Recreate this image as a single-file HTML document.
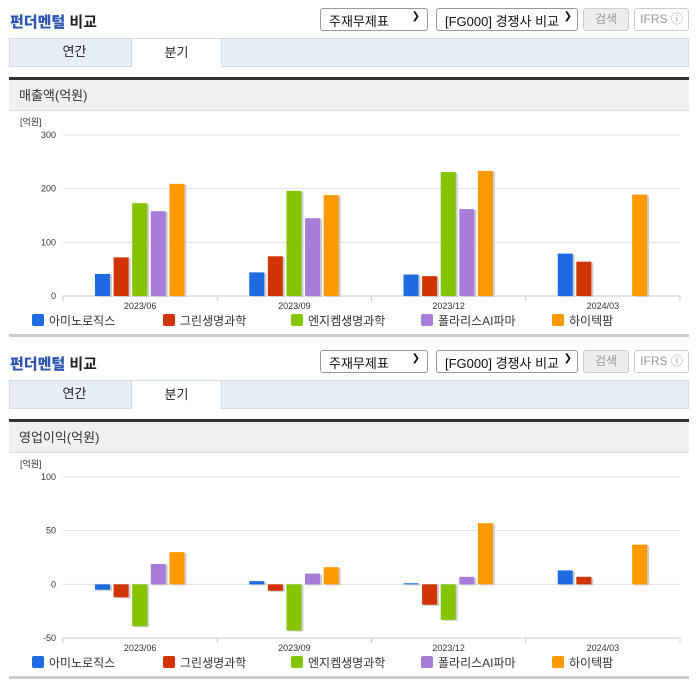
<!DOCTYPE html>
<html><head><meta charset="utf-8"><style>
*{margin:0;padding:0;box-sizing:border-box}
body{width:696px;height:684px;background:#fff;font-family:"Liberation Sans","Noto Sans CJK KR",sans-serif;position:relative;overflow:hidden;color:#333}
.abs{position:absolute}
.title{font-size:15px;font-weight:bold;color:#222}
.title b{color:#2e55b0}
.sel{border:1px solid #999;border-radius:3px;height:23px;font-size:13px;padding:2px 8px;background:#fff;color:#111}
.btn{border:1px solid #ccc;border-radius:3px;height:23px;font-size:12px;color:#999;text-align:center;line-height:21px}
.tabs{left:9px;width:680px;height:29px;background:#e8eef8;border:1px solid #d5dbe5}
.tab{top:-1px;height:29px;width:91px;text-align:center;font-size:13px;line-height:28px;color:#222}
.dark{left:9px;width:680px;height:3px;background:#333}
.band{left:9px;width:680px;height:31px;background:#f0f0f0;border-bottom:1px solid #ddd;font-size:13px;padding-left:10px;line-height:31px;color:#333}
.sep{left:9px;width:680px;height:3px;background:#ccc}
</style></head><body>
<div id="sec1"></div>
<div id="sec2"></div>
<svg id="svg" class="abs" style="left:0;top:0" width="696" height="684"></svg>
<script>
const categories=["2023/06","2023/09","2023/12","2024/03"];
const seriesNames=["아미노로직스","그린생명과학","엔지켐생명과학","폴라리스AI파마","하이텍팜"];
const colors=["#1e6ae0","#d13400","#86c300","#a67ed8","#ff9900"];
const revAmino=[41,44,40,79];
const revGreen=[72,74,37,64];
const revEnzy=[173,196,231,null];
const revPolaris=[158,145,162,null];
const revHitech=[209,188,233,189];
const revTicks=[0,100,200,300];
const opAmino=[-5,3,1,13];
const opGreen=[-12,-6,-19,7];
const opEnzy=[-39,-43,-33,null];
const opPolaris=[19,10,7,null];
const opHitech=[30,16,57,37];
const opTicks=[-50,0,50,100];

const NS="http://www.w3.org/2000/svg";
const svg=document.getElementById('svg');
function el(tag,attrs,parent){const e=document.createElementNS(NS,tag);for(const k in attrs)e.setAttribute(k,attrs[k]);(parent||svg).appendChild(e);return e;}

function section(off,secId,bandText,series,ticks,ymin,ymax,chartName){
  const s=document.getElementById(secId);
  s.innerHTML=`
  <div class="abs title" style="left:10px;top:${off+11}px"><b>펀더멘털</b> 비교</div>
  <div class="abs sel" style="left:320px;top:${off+8}px;width:108px">주재무제표<span style="position:absolute;right:7px;font-size:10px">&#10095;</span></div>
  <div class="abs sel" style="left:436px;top:${off+8}px;width:142px">[FG000] 경쟁사 비교<span style="position:absolute;right:5px;font-size:10px">&#10095;</span></div>
  <div class="abs btn" style="left:583px;top:${off+8}px;width:46px;background:#eee">검색</div>
  <div class="abs btn" style="left:634px;top:${off+8}px;width:55px">IFRS &#9432;</div>
  <div class="abs tabs" style="top:${off+38}px">
    <div class="abs tab" style="left:19px">연간</div>
    <div class="abs tab" style="left:121px;background:#fff;border:1px solid #d5dbe5;border-bottom:none;height:29px">분기</div>
  </div>
  <div class="abs dark" style="top:${off+77}px"></div>
  <div class="abs band" style="top:${off+80}px">${bandText}</div>
  <div class="abs sep" style="top:${off+334}px"></div>`;
  const top=off+135,bot=off+296,x0=63,x1=680;
  const y=v=>bot-(v-ymin)/(ymax-ymin)*(bot-top);
  const cw=(x1-x0)/categories.length;
  const g=el('g',{});
  
  
  const u=el('text',{x:20,y:top-10,'font-size':9,fill:'#333'},g);u.textContent='[억원]';
  ticks.forEach(t=>{
    const yy=y(t);
    const ln=el('line',{x1:x0,x2:x1,y1:yy,y2:yy,stroke:t===ymin?'#c0c8d8':'#e0e0e0','stroke-width':1},g);
    
    
    const tx=el('text',{x:56,y:yy+3,'font-size':9,fill:'#333','text-anchor':'end'},g);tx.textContent=t;
    
    
  });
  for(let i=0;i<=categories.length;i++){const xx=x0+i*cw;el('line',{x1:xx,x2:xx,y1:bot,y2:bot+5,stroke:'#c0c8d8'},g);}
  categories.forEach((c,i)=>{
    const tx=el('text',{x:x0+cw*i+cw/2,y:bot+13,'font-size':9,fill:'#333','text-anchor':'middle'},g);tx.textContent=c;
    
    
    series.forEach((arr,j)=>{
      const v=arr[i];if(v==null)return;
      const bx=x0+cw*i+32+j*18.6,bw=15;
      const y0=y(0),yv=y(v);
      const ty=Math.min(y0,yv),h=Math.max(1,Math.abs(yv-y0));
      el('rect',{x:bx+2,y:ty+1,width:bw,height:h,fill:'#ccc'},g);
      const r=el('rect',{x:bx,y:ty,width:bw,height:h,fill:colors[j]},g);
      
      
    });
  });
  const lx=[32,163,291,421,552];
  seriesNames.forEach((n,j)=>{
    const lg=el('g',{},g);
    
    
    el('rect',{x:lx[j],y:off+314,width:12,height:12,rx:2,fill:colors[j]},lg);
    const t=el('text',{x:lx[j]+17,y:off+325,'font-size':12,fill:'#333'},lg);t.textContent=n;
  });
}
section(0,'sec1','매출액(억원)',[revAmino,revGreen,revEnzy,revPolaris,revHitech],revTicks,0,300,'revenue-chart');
section(342,'sec2','영업이익(억원)',[opAmino,opGreen,opEnzy,opPolaris,opHitech],opTicks,-50,100,'operating-profit-chart');
</script>
</body></html>
